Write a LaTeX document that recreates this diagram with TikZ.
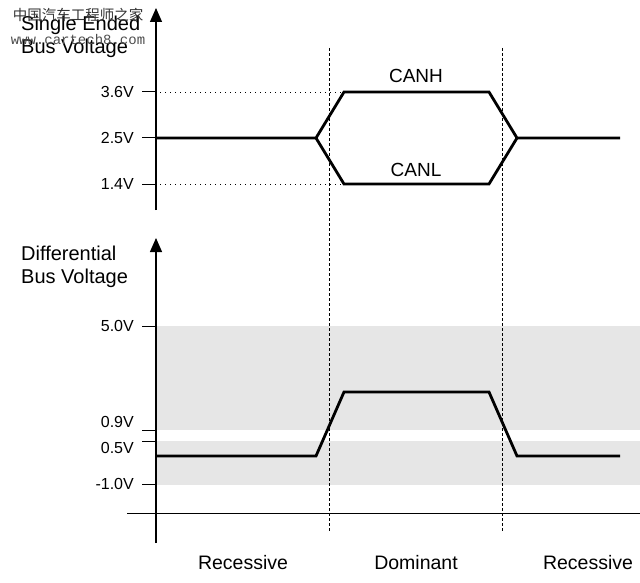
\documentclass[tikz,border=0pt]{standalone}
\usepackage{fontspec}
\setmainfont{Liberation Sans}
\newfontfamily\cjkwm{Noto Sans CJK SC}
\newfontfamily\monowm{Liberation Mono}
\usetikzlibrary{arrows.meta}
\definecolor{bandgray}{HTML}{E6E6E6}
\begin{document}
\begin{tikzpicture}[x=1pt,y=-1pt,
  axisline/.style={line width=1.3pt},
  axisarrow/.style={axisline,-{Triangle[length=14pt,width=12pt]}},
  tickline/.style={line width=1pt},
  wave/.style={line width=2.8pt, line join=miter},
  guide/.style={line width=0.8pt, dash pattern=on 1pt off 4pt},
  divider/.style={line width=0.8pt, dash pattern=on 3pt off 2pt},
  ticklabel/.style={anchor=east, font=\fontsize{16}{16}\selectfont, inner sep=0pt},
  axistitle/.style={anchor=west, align=left, font=\fontsize{20}{23.5}\selectfont, inner sep=0pt},
  siglabel/.style={font=\fontsize{19}{19}\selectfont, inner sep=0pt},
  statelabel/.style={font=\fontsize{19.5}{19.5}\selectfont, inner sep=0pt},
  band/.style={fill=bandgray, draw=none}
]
\useasboundingbox (0,0) rectangle (640,583);

% ---------- gray bands (differential) ----------
\fill[band] (156,326) rectangle (640,430);
\fill[band] (156,441) rectangle (640,485);

% ---------- axes ----------
\coordinate (topbase) at (156,210);
\coordinate (toptip) at (156,8);
\draw[axisarrow] (topbase) -- (toptip);
\coordinate (botbase) at (156,543);
\coordinate (bottip) at (156,238);
\draw[axisarrow] (botbase) -- (bottip);
\coordinate (hxl) at (127,513);
\coordinate (hxr) at (640,513);
\draw[tickline] (hxl) -- (hxr);

% ---------- ticks (top) ----------
\foreach \yy/\lab/\nm in {92/3.6V/t36, 138/2.5V/t25, 184/1.4V/t14}{
  \draw[tickline] (142,\yy) -- (156,\yy);
  \node[ticklabel] (\nm) at (134,\yy) {\lab};
}
% ---------- ticks (bottom) ----------
\foreach \yy in {326,430,441,484}{
  \draw[tickline] (142,\yy) -- (156,\yy);
}
\node[ticklabel] (b50) at (134,326) {5.0V};
\node[ticklabel] (b09) at (134,422) {0.9V};
\node[ticklabel] (b05) at (134,448) {0.5V};
\node[ticklabel] (bm10) at (134,484) {-1.0V};

% ---------- dotted guides ----------
\draw[guide] (160,92) -- (343,92);
\draw[guide] (160,184) -- (343,184);

% ---------- vertical dividers ----------
\draw[divider] (329,48) -- (329,531);
\draw[divider] (502,48) -- (502,531);

% ---------- single-ended waveforms ----------
\coordinate (s0) at (156,138);
\coordinate (s1) at (316,138);
\coordinate (h1) at (344,92);
\coordinate (h2) at (489,92);
\coordinate (l1) at (344,184);
\coordinate (l2) at (489,184);
\coordinate (s2) at (517,138);
\coordinate (s3) at (620,138);
\draw[wave] (s0) -- (s1) -- (h1) -- (h2) -- (s2) -- (s3);
\draw[wave] (s1) -- (l1) -- (l2) -- (s2);
\node[siglabel] (canh) at (416,76) {CANH};
\node[siglabel] (canl) at (416,170) {CANL};

% ---------- differential waveform ----------
\coordinate (d0) at (156,456);
\coordinate (d1) at (316,456);
\coordinate (d2) at (344,392);
\coordinate (d3) at (489,392);
\coordinate (d4) at (517,456);
\coordinate (d5) at (620,456);
\draw[wave] (d0) -- (d1) -- (d2) -- (d3) -- (d4) -- (d5);

% ---------- titles ----------
\node[axistitle] (setitle) at (21,37) {Single Ended\\Bus Voltage};
\node[axistitle] (dftitle) at (21,267) {Differential\\Bus Voltage};

% ---------- states ----------
\node[statelabel] (rec1) at (243,563) {Recessive};
\node[statelabel] (dom) at (416,563) {Dominant};
\node[statelabel] (rec2) at (588,563) {Recessive};

% ---------- watermark ----------
\node[inner sep=0pt, text=black!80, font=\cjkwm\fontsize{14.5}{14.5}\selectfont] (wm1) at (78,15) {中国汽车工程师之家};
\node[inner sep=0pt, text=black!70, font=\monowm\fontsize{14}{14}\selectfont] (wm2) at (78,39) {www.cartech8.com};
\end{tikzpicture}
\end{document}
